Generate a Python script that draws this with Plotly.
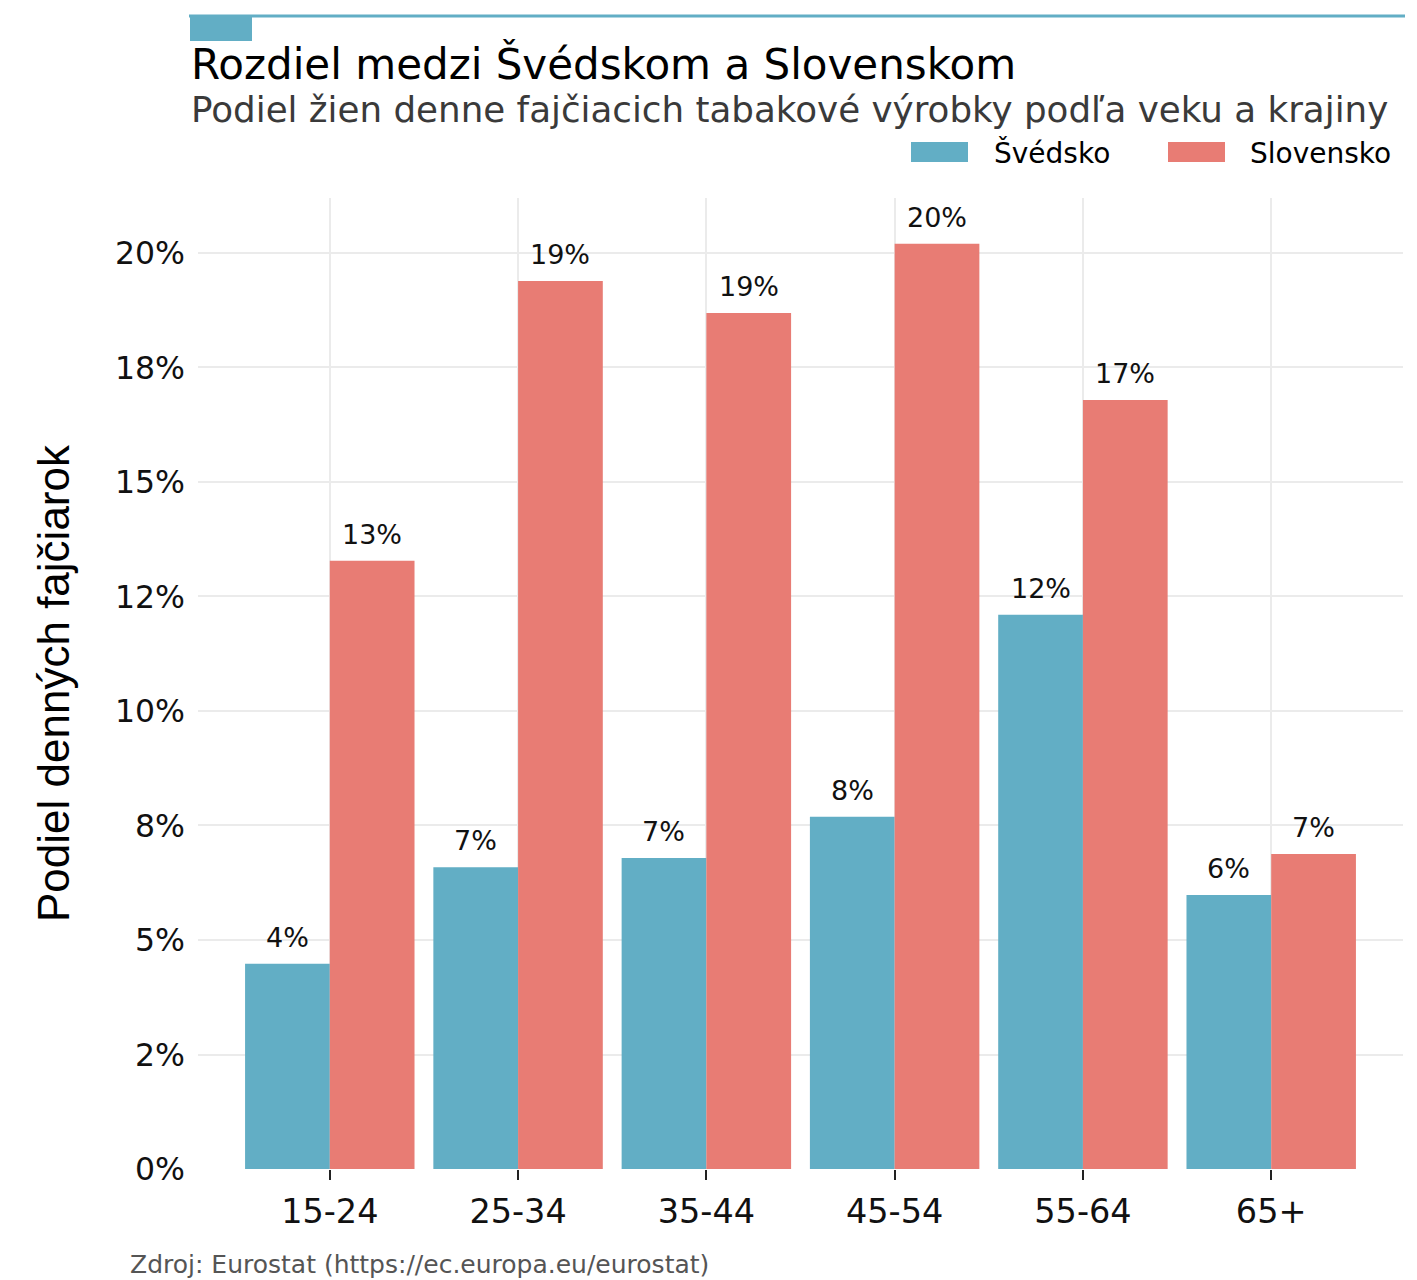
import plotly.graph_objects as go

# Data: share of women smoking tobacco daily (%), by age group
age_groups = ["15-24", "25-34", "35-44", "45-54", "55-64", "65+"]
sweden = [4.48, 6.59, 6.79, 7.69, 12.1, 5.98]
slovakia = [13.28, 19.39, 18.69, 20.2, 16.79, 6.88]
series_names = ["Švédsko", "Slovensko"]
series_colors = ["#62AEC5", "#E87C74"]
y_tickvals = [0, 2.5, 5, 7.5, 10, 12.5, 15, 17.5, 20]
y_ticktext = ["0%", "2%", "5%", "8%", "10%", "12%", "15%", "18%", "20%"]

W, H = 1417, 1280
L, R, T, B = 198, 14, 198, 111
PW, PH = W - L - R, H - T - B

FONT = "DejaVu Sans"


def px_x(px):
    return (px - L) / PW


def px_y(py):
    return (H - B - py) / PH


fig = go.Figure()
for name, vals, col in zip(series_names, [sweden, slovakia], series_colors):
    fig.add_trace(go.Bar(
        x=age_groups, y=vals, name=name,
        marker=dict(color=col, line=dict(width=0)),
        showlegend=False,
    ))

# Value labels above each bar
annotations = []
n_cat = len(age_groups)
group_unit_px = PW / (n_cat + 0.4)
offsets = [-0.225 * group_unit_px, 0.225 * group_unit_px]
for vals, dx in zip([sweden, slovakia], offsets):
    for cat, v in zip(age_groups, vals):
        annotations.append(dict(
            x=cat, y=v, xref="x", yref="y", text=f"{round(v):.0f}%",
            showarrow=False, xshift=dx, yanchor="bottom", yshift=9,
            font=dict(family=FONT, size=27, color="#111111"),
        ))

# Title, subtitle, caption
annotations.append(dict(
    x=px_x(189), y=px_y(64), xref="paper", yref="paper", xanchor="left", yanchor="middle",
    text="Rozdiel medzi Švédskom a Slovenskom", showarrow=False,
    font=dict(family=FONT, size=42, color="#000000"),
))
annotations.append(dict(
    x=px_x(189), y=px_y(110), xref="paper", yref="paper", xanchor="left", yanchor="middle",
    text="Podiel žien denne fajčiacich tabakové výrobky podľa veku a krajiny", showarrow=False,
    font=dict(family=FONT, size=35.7, color="#3a3a3a"),
))
annotations.append(dict(
    x=px_x(128), y=px_y(1264), xref="paper", yref="paper", xanchor="left", yanchor="middle",
    text="Zdroj: Eurostat (https://ec.europa.eu/eurostat)", showarrow=False,
    font=dict(family=FONT, size=25, color="#555555"),
))

# Legend drawn as swatches plus labels
shapes = []
legend_swatch_x = [911, 1168]
legend_text_x = [992, 1248]
for name, col, sx, tx in zip(series_names, series_colors, legend_swatch_x, legend_text_x):
    shapes.append(dict(
        type="rect", xref="paper", yref="paper",
        x0=px_x(sx), x1=px_x(sx + 57), y0=px_y(162), y1=px_y(142),
        fillcolor=col, line=dict(width=0),
    ))
    annotations.append(dict(
        x=px_x(tx), y=px_y(153), xref="paper", yref="paper", xanchor="left", yanchor="middle",
        text=name, showarrow=False, font=dict(family=FONT, size=28, color="#000000"),
    ))

# Decorative header rule and tab
shapes.append(dict(
    type="line", xref="paper", yref="paper",
    x0=px_x(189), x1=px_x(1405), y0=px_y(16), y1=px_y(16),
    line=dict(color="#62AEC5", width=3),
))
shapes.append(dict(
    type="rect", xref="paper", yref="paper",
    x0=px_x(190), x1=px_x(252), y0=px_y(41), y1=px_y(16),
    fillcolor="#62AEC5", line=dict(width=0),
))

fig.update_layout(
    width=W, height=H,
    margin=dict(l=L, r=R, t=T, b=B, pad=0),
    paper_bgcolor="white", plot_bgcolor="white",
    barmode="group", bargap=0.1, bargroupgap=0,
    font=dict(family=FONT, color="#000000"),
    annotations=annotations, shapes=shapes,
    showlegend=False,
)
fig.update_xaxes(
    range=[-0.7, n_cat - 0.3],
    showgrid=True, gridcolor="#EBEBEB", gridwidth=2,
    ticks="outside", ticklen=10, tickwidth=2, tickcolor="#222222",
    tickfont=dict(family=FONT, size=33.5, color="#111111"),
    ticklabelstandoff=3,
    showline=False, zeroline=False,
)
fig.update_yaxes(
    range=[0, 21.2],
    tickvals=y_tickvals, ticktext=y_ticktext,
    showgrid=True, gridcolor="#EBEBEB", gridwidth=2,
    ticks="", tickfont=dict(family=FONT, size=31.5, color="#111111"),
    ticklabelstandoff=12,
    zeroline=False, showline=False,
    title=dict(text="Podiel denných fajčiarok", standoff=31,
               font=dict(family="Liberation Sans", size=44, color="#000000")),
)

fig.write_html("out.html")
